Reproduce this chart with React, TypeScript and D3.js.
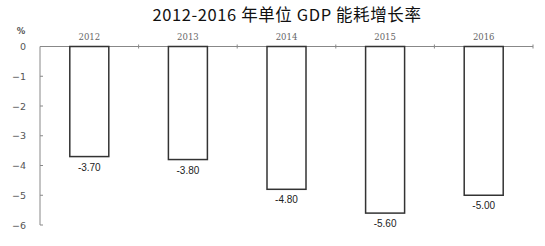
import React from "react";
import * as d3 from "d3";

const years = ["2012", "2013", "2014", "2015", "2016"];
const values = [-3.7, -3.8, -4.8, -5.6, -5.0];
const yTicks = [0, -1, -2, -3, -4, -5, -6];

export default function App() {
  const W = 545, H = 246;
  const band = d3.scaleBand<string>().domain(years).range([40, 533]);
  const y = d3.scaleLinear().domain([0, -6]).range([46.5, 225]);
  return (
    <svg width={W} height={H} style={{ position: "absolute", left: 0, top: 0, background: "#fff" }}>
      <text x={287} y={21} textAnchor="middle" fontFamily="'Noto Sans CJK SC'" fontSize={16.5} letterSpacing={0.6} fill="#111">
        2012-2016 年单位 GDP 能耗增长率
      </text>
      <text x={21} y={34} textAnchor="middle" fontFamily="'DejaVu Sans'" fontSize={8.5} fontWeight="bold" fill="#555">%</text>
      <line x1={40} x2={40} y1={y(0)} y2={y(-6)} stroke="#888" strokeWidth={1} />
      {yTicks.map((t) => (
        <g key={t}>
          <line x1={40} x2={43} y1={y(t)} y2={y(t)} stroke="#888" />
          <text x={26} y={y(t) + 3.5} textAnchor="end" fontFamily="'DejaVu Sans'" fontSize={9.5} fill="#555">
            {t === 0 ? "0" : "\u2212" + Math.abs(t)}
          </text>
        </g>
      ))}
      <line x1={40} x2={533} y1={y(0)} y2={y(0)} stroke="#888" strokeWidth={1} />
      {years.map((yr) => (
        <line key={yr} x1={(band(yr) as number) + band.bandwidth()} x2={(band(yr) as number) + band.bandwidth()} y1={y(0) - 2} y2={y(0) + 2} stroke="#888" />
      ))}
      {years.map((yr) => (
        <text key={yr} x={(band(yr) as number) + band.bandwidth() / 2} y={40} textAnchor="middle" fontFamily="'DejaVu Serif'" fontSize={8.5} fill="#666">
          {yr}
        </text>
      ))}
      {years.map((yr, i) => {
        const bx = (band(yr) as number) + band.bandwidth() / 2 - 19.5;
        return (
          <g key={yr}>
            <rect x={bx} y={y(0)} width={39} height={y(values[i]) - y(0)} fill="#fff" stroke="#333" strokeWidth={1.5} />
            <text x={bx + 19.5} y={y(values[i]) + 14} textAnchor="middle" fontFamily="'Liberation Sans'" fontSize={10} fill="#222">
              {values[i].toFixed(2)}
            </text>
          </g>
        );
      })}
    </svg>
  );
}
